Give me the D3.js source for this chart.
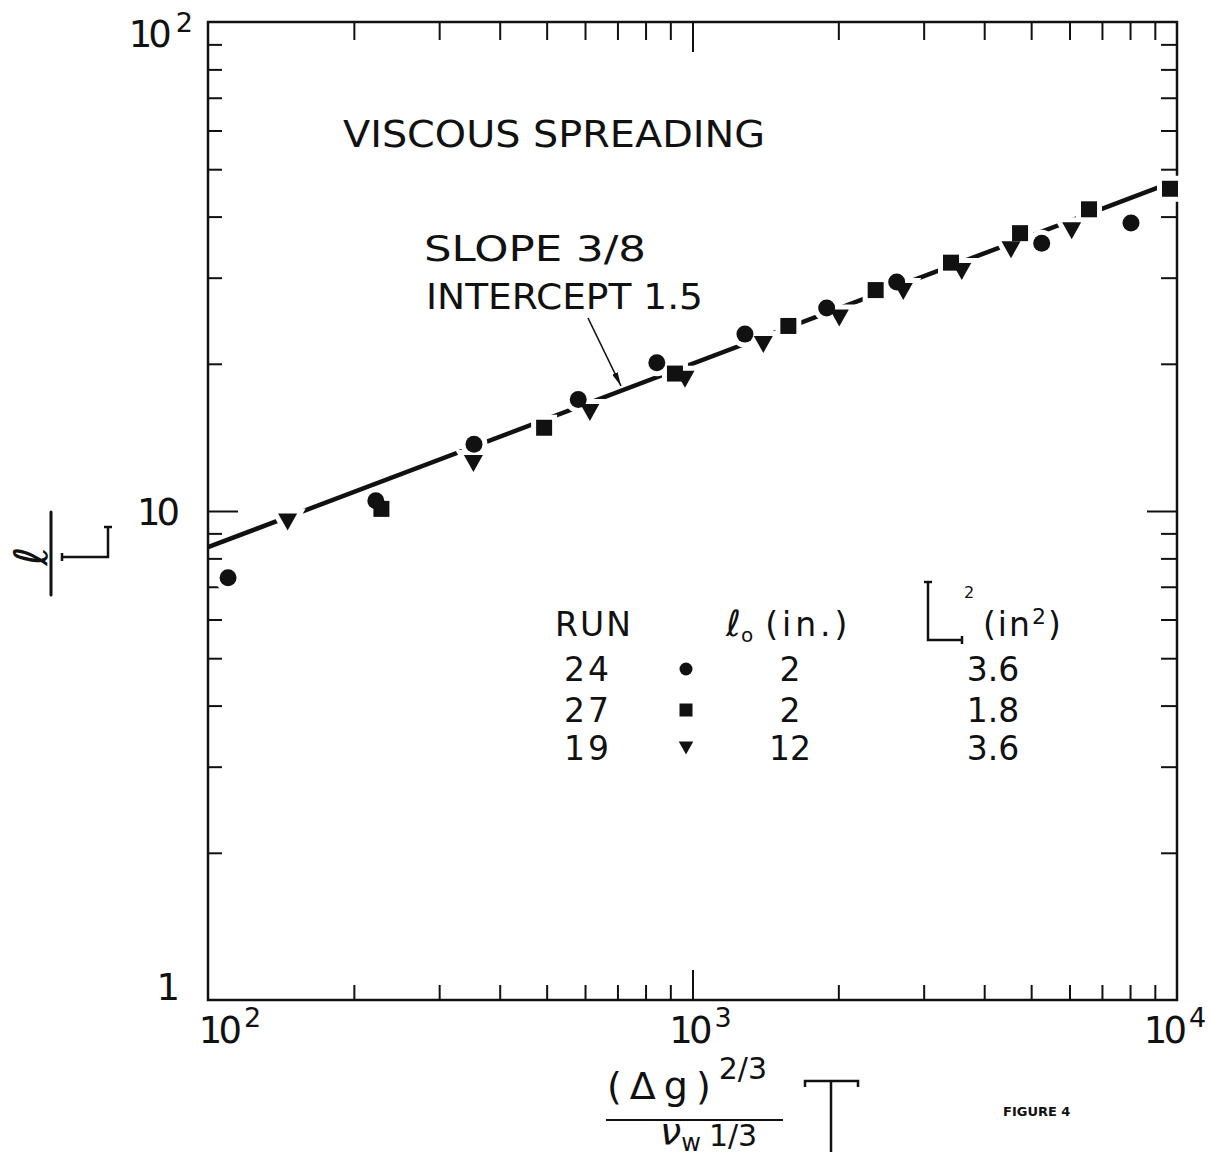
<!DOCTYPE html>
<html>
<head>
<meta charset="utf-8">
<script src="https://cdn.jsdelivr.net/npm/d3@7"></script>
<style>
  body { margin: 0; background: #fff; }
  text { font-family: "DejaVu Sans", sans-serif; fill: #111; }
  .tick line { stroke: #111; stroke-width: 2; }
</style>
</head>
<body>
<svg id="chart" width="1211" height="1157"></svg>
<script>
// ---- data ----
// run 24 (circles), run 27 (squares), run 19 (triangles): [x, l/L]
var run24 = [[110, 7.3], [222, 10.5], [354, 13.7], [581, 16.9], [844, 20.1],
             [1283, 23.0], [1892, 26.0], [2639, 29.4], [5257, 35.3], [8036, 38.8]];
var run27 = [[228, 10.1], [494, 14.8], [920, 19.1], [1577, 23.9], [2388, 28.3],
             [3416, 32.2], [4743, 37.0], [6582, 41.4], [9673, 45.6]];
var run19 = [[146, 9.5], [353, 12.5], [614, 15.9], [965, 18.6], [1400, 21.9],
             [2009, 24.8], [2723, 28.1], [3595, 30.9], [4543, 34.2], [6062, 37.4]];

var fitSlope = 3 / 8;        // "SLOPE 3/8"
var fitIntercept = 1.5;      // "INTERCEPT 1.5"
var fitRange = [100, 9600];

var xMinorTicks = [200, 300, 400, 500, 600, 700, 800, 900, 2000, 3000, 4000, 5000, 6000, 7000, 8000, 9000];
var xMajorTicks = [1000];
var yMinorTicks = [2, 3, 4, 5, 6, 7, 8, 9, 20, 30, 40, 50, 60, 70, 80, 90];
var yMajorTicks = [10];

var xTickLabels = [[100, "10", "2"], [1000, "10", "3"], [10000, "10", "4"]];
var yTickLabels = [[100, "10", "2"], [10, "10", ""], [1, "1", ""]];

var legendRuns = ["24", "27", "19"];
var legendShapes = ["circle", "square", "triangle"];
var legendL0 = ["2", "2", "12"];
var legendArea = ["3.6", "1.8", "3.6"];

// ---- setup ----
var svg = d3.select("#chart");
var plotLeft = 208, plotRight = 1177, plotTop = 22, plotBottom = 1000;

var x = d3.scaleLog().domain([100, 10000]).range([plotLeft, plotRight]);
var y = d3.scaleLog().domain([1, 100]).range([plotBottom, plotTop]);

// marker shapes
function shapePath(kind, s) {
   if (kind == "circle") {
      var r = s / 2;
      return "M" + (-r) + ",0A" + r + "," + r + " 0 1,0 " + r + ",0A" + r + "," + r + " 0 1,0 " + (-r) + ",0Z";
   }
   if (kind == "square") {
      var h = s / 2;
      return "M" + (-h) + "," + (-h) + "H" + h + "V" + h + "H" + (-h) + "Z";
   }
   // downward triangle, centred on its bounding box
   var w = s * 1.12 / 2, t = s / 2;
   return "M" + (-w) + "," + (-t) + "H" + w + "L0," + t + "Z";
}

// ---- axes: ticks inside on all four sides ----
function addAxis(axisFn, scale, values, size, transform) {
   svg.append("g")
      .attr("transform", transform)
      .call(axisFn(scale).tickValues(values).tickSize(size).tickSizeOuter(0).tickFormat(""))
      .call(function (g) { g.select(".domain").remove(); });
}
addAxis(d3.axisBottom, x, xMinorTicks, -15, "translate(0," + plotBottom + ")");
addAxis(d3.axisBottom, x, xMajorTicks, -30, "translate(0," + plotBottom + ")");
addAxis(d3.axisTop, x, xMinorTicks, -18, "translate(0," + plotTop + ")");
addAxis(d3.axisTop, x, xMajorTicks, -30, "translate(0," + plotTop + ")");
addAxis(d3.axisLeft, y, yMinorTicks, -14, "translate(" + plotLeft + ",0)");
addAxis(d3.axisLeft, y, yMajorTicks, -30, "translate(" + plotLeft + ",0)");
addAxis(d3.axisRight, y, yMinorTicks, -16, "translate(" + plotRight + ",0)");
addAxis(d3.axisRight, y, yMajorTicks, -30, "translate(" + plotRight + ",0)");

svg.append("rect")
   .attr("x", plotLeft).attr("y", plotTop)
   .attr("width", plotRight - plotLeft).attr("height", plotBottom - plotTop)
   .attr("fill", "none").attr("stroke", "#111").attr("stroke-width", 2.5);

// ---- tick labels (hand-lettered, so each sits a little differently) ----
var xLabelShift = [22, 8, -2];
var xl = svg.selectAll("text.xlab").data(xTickLabels).enter().append("text")
   .attr("class", "xlab")
   .attr("x", function (d, i) { return x(d[0]) + xLabelShift[i]; })
   .attr("y", plotBottom + 43)
   .attr("font-size", 37)
   .attr("text-anchor", "middle");
xl.append("tspan").attr("letter-spacing", -4).text(function (d) { return d[1]; });
xl.append("tspan").attr("font-size", 27).attr("dx", 6).attr("dy", -16).text(function (d) { return d[2]; });

var yl = svg.selectAll("text.ylab").data(yTickLabels).enter().append("text")
   .attr("class", "ylab")
   .attr("x", function (d) { return d[2] ? 193 : 176; })
   .attr("y", function (d) {
      if (d[0] == 1) return y(d[0]);
      return d[0] == 100 ? y(d[0]) + 25 : y(d[0]) + 14;
   })
   .attr("font-size", 37)
   .attr("text-anchor", "end");
yl.append("tspan").attr("letter-spacing", -4).text(function (d) { return d[1]; });
yl.append("tspan").attr("font-size", 27).attr("dx", 8).attr("dy", -15).text(function (d) { return d[2]; });

// ---- fitted line  l/L = 1.5 * X^(3/8) ----
var fitPoints = fitRange.map(function (v) { return [v, fitIntercept * Math.pow(v, fitSlope)]; });
svg.append("path")
   .datum(fitPoints)
   .attr("d", d3.line().x(function (d) { return x(d[0]); }).y(function (d) { return y(d[1]); }))
   .attr("fill", "none")
   .attr("stroke", "#111")
   .attr("stroke-width", 4.5);

// ---- data points, with a white knock-out that breaks the line ----
var series = [
   { data: run24, shape: "circle", size: 17 },
   { data: run27, shape: "square", size: 16 },
   { data: run19, shape: "triangle", size: 17 }
];
series.forEach(function (s) {
   svg.selectAll(null).data(s.data).enter().append("path")
      .attr("transform", function (d) { return "translate(" + x(d[0]) + "," + y(d[1]) + ")"; })
      .attr("d", shapePath(s.shape, s.size))
      .attr("fill", "#fff").attr("stroke", "#fff").attr("stroke-width", 10);
});
series.forEach(function (s) {
   svg.selectAll(null).data(s.data).enter().append("path")
      .attr("transform", function (d) { return "translate(" + x(d[0]) + "," + y(d[1]) + ")"; })
      .attr("d", shapePath(s.shape, s.size))
      .attr("fill", "#111");
});

// ---- annotations ----
svg.append("text").attr("x", 343).attr("y", 147).attr("font-size", 37)
   .attr("textLength", 422).attr("lengthAdjust", "spacingAndGlyphs").text("VISCOUS SPREADING");
svg.append("text").attr("x", 424).attr("y", 261).attr("font-size", 35)
   .attr("textLength", 222).attr("lengthAdjust", "spacingAndGlyphs").text("SLOPE 3/8");
svg.append("text").attr("x", 426).attr("y", 309).attr("font-size", 35)
   .attr("textLength", 277).attr("lengthAdjust", "spacingAndGlyphs").text("INTERCEPT 1.5");

svg.append("defs").append("marker")
   .attr("id", "arrow").attr("viewBox", "0 0 14 6").attr("refX", 14).attr("refY", 3)
   .attr("markerWidth", 14).attr("markerHeight", 6).attr("markerUnits", "userSpaceOnUse")
   .attr("orient", "auto")
   .append("path").attr("d", "M0,0L14,3L0,6Z").attr("fill", "#111");
svg.append("line")
   .attr("x1", 588).attr("y1", 318).attr("x2", 621).attr("y2", 386)
   .attr("stroke", "#111").attr("stroke-width", 1.6).attr("marker-end", "url(#arrow)");

// ---- legend ----
var legX = { run: 594, mark: 686, l0: 790, area: 993 };
var rowY = [681, 722, 760];

svg.append("text").attr("x", legX.run).attr("y", 636).attr("font-size", 33)
   .attr("text-anchor", "middle").attr("letter-spacing", 2).text("RUN");
var l0Head = svg.append("text").attr("x", 726).attr("y", 636).attr("font-size", 33);
l0Head.append("tspan").attr("font-style", "italic").attr("font-size", 36).text("ℓ");
l0Head.append("tspan").attr("font-size", 20).attr("dy", 6).text("o");
l0Head.append("tspan").attr("dx", 12).attr("dy", -6).attr("letter-spacing", 4).text("(in.)");

// L bracket for L² column
svg.append("path")
   .attr("d", "M924,582H932M928,582V640H962M962,636V644")
   .attr("fill", "none").attr("stroke", "#111").attr("stroke-width", 2.5);
svg.append("text").attr("x", 964).attr("y", 598).attr("font-size", 16).text("2");
var areaHead = svg.append("text").attr("x", 983).attr("y", 636).attr("font-size", 33)
   .attr("letter-spacing", 2);
areaHead.append("tspan").text("(in");
areaHead.append("tspan").attr("font-size", 22).attr("dy", -12).text("2");
areaHead.append("tspan").attr("dy", 12).text(")");

legendRuns.forEach(function (r, i) {
   svg.append("text").attr("x", legX.run - 6).attr("y", rowY[i]).attr("font-size", 33)
      .attr("text-anchor", "middle").attr("letter-spacing", 3).text(r);
   svg.append("path")
      .attr("transform", "translate(" + legX.mark + "," + (rowY[i] - 12) + ")")
      .attr("d", shapePath(legendShapes[i], 13))
      .attr("fill", "#111");
   svg.append("text").attr("x", legX.l0).attr("y", rowY[i]).attr("font-size", 33)
      .attr("text-anchor", "middle").text(legendL0[i]);
   svg.append("text").attr("x", legX.area).attr("y", rowY[i]).attr("font-size", 33)
      .attr("text-anchor", "middle").text(legendArea[i]);
});

// ---- y-axis title: l / L (rotated) ----
svg.append("text")
   .attr("transform", "translate(47,556) rotate(-90)")
   .attr("font-size", 46).attr("font-style", "italic").attr("text-anchor", "middle")
   .text("ℓ");
svg.append("line").attr("x1", 51).attr("y1", 512).attr("x2", 51).attr("y2", 595)
   .attr("stroke", "#111").attr("stroke-width", 3).attr("stroke-linecap", "round");
svg.append("path")
   .attr("d", "M62,553V561M62,557H108V527M104,527H112")
   .attr("fill", "none").attr("stroke", "#111").attr("stroke-width", 2.5);

// ---- x-axis title: (Δg)^(2/3) / ν_w^(1/3)  T ----
var num = svg.append("text").attr("x", 607).attr("y", 1099).attr("font-size", 38);
num.append("tspan").attr("letter-spacing", 8).text("(Δg)");
num.append("tspan").attr("font-size", 30).attr("dx", 0).attr("dy", -20).text("2/3");
svg.append("line").attr("x1", 606).attr("y1", 1120).attr("x2", 783).attr("y2", 1120)
   .attr("stroke", "#111").attr("stroke-width", 2);
var den = svg.append("text").attr("x", 660).attr("y", 1144).attr("font-size", 38);
den.append("tspan").attr("font-style", "italic").text("ν");
den.append("tspan").attr("font-size", 24).attr("dy", 7).text("w");
den.append("tspan").attr("font-size", 30).attr("dx", 8).attr("dy", -5).text("1/3");
svg.append("path")
   .attr("d", "M805,1087V1081H858V1087M831,1081V1152")
   .attr("fill", "none").attr("stroke", "#111").attr("stroke-width", 2.5);

svg.append("text").attr("x", 1003).attr("y", 1116)
   .attr("font-family", "Liberation Mono, DejaVu Sans Mono, monospace")
   .attr("font-size", 13).attr("font-weight", "bold")
   .text("FIGURE 4");
</script>
</body>
</html>
